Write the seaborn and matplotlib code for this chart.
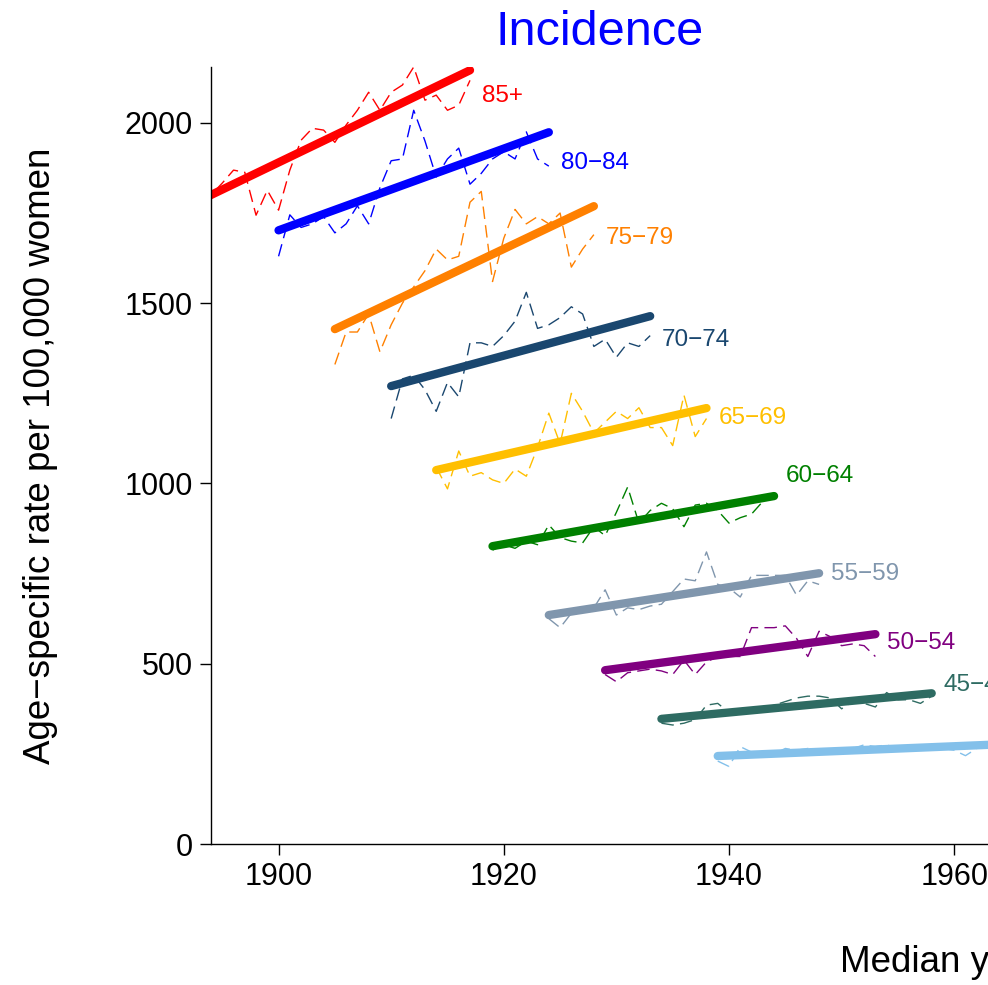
import numpy as np
import pandas as pd
import seaborn as sns
import matplotlib.pyplot as plt

# age groups and colours
groups = ['85+', '80\u221284', '75\u221279', '70\u221274', '65\u221269',
          '60\u221264', '55\u221259', '50\u221254', '45\u221249', '40\u221244']
colors = ['#FF0000', '#0000FF', '#FF8000', '#1A476F', '#FFBF00',
          '#008000', '#8096AD', '#800080', '#2E6B62', '#83C0EA']

# first median year of birth for each group (one value per year after that)
first_year = [1893, 1900, 1905, 1910, 1914, 1919, 1924, 1929, 1934, 1939]

# observed age-specific rates per 100,000 women
rate_85 = [1790, 1800, 1833, 1869, 1863, 1744, 1813, 1758, 1869, 1952, 1985, 1980, 1946,
           1994, 2035, 2085, 2035, 2085, 2105, 2155, 2063, 2077, 2035, 2049, 2118]
rate_80 = [1630, 1745, 1710, 1720, 1740, 1695, 1720, 1770, 1720, 1820, 1895, 1900, 2035,
           1950, 1850, 1900, 1930, 1830, 1860, 1900, 1920, 1900, 1975, 1900, 1880]
rate_75 = [1330, 1420, 1420, 1470, 1365, 1440, 1500, 1545, 1590, 1650, 1620, 1630, 1780,
           1810, 1560, 1680, 1760, 1720, 1740, 1720, 1750, 1600, 1650, 1690]
rate_70 = [1180, 1290, 1300, 1260, 1200, 1280, 1240, 1390, 1390, 1380, 1410, 1450, 1530,
           1430, 1440, 1460, 1490, 1470, 1380, 1400, 1350, 1390, 1380, 1410]
rate_65 = [1045, 985, 1090, 1020, 1030, 1010, 1000, 1040, 1020, 1100, 1195, 1110, 1250,
           1200, 1140, 1170, 1200, 1180, 1210, 1155, 1155, 1105, 1245, 1130, 1180]
rate_60 = [815, 830, 820, 840, 830, 885, 850, 840, 835, 880, 855, 920, 990,
           890, 925, 945, 930, 880, 940, 945, 925, 890, 905, 915, 950, 960]
rate_55 = [625, 600, 640, 650, 655, 705, 635, 655, 650, 660, 665, 700, 735,
           730, 810, 720, 710, 685, 745, 745, 745, 745, 690, 730, 720]
rate_50 = [470, 450, 475, 480, 485, 480, 470, 510, 470, 505, 520, 520, 520,
           600, 600, 600, 605, 570, 520, 590, 575, 550, 555, 550, 520]
rate_45 = [335, 330, 335, 345, 385, 390, 365, 360, 370, 375, 385, 395, 405,
           410, 410, 405, 375, 395, 390, 380, 420, 400, 400, 390, 410]
rate_40 = [230, 215, 270, 255, 255, 250, 265, 260, 265, 260, 265, 260, 265,
           275, 270, 275, 265, 270, 275, 260, 265, 260, 245, 265, 275]
rates = [rate_85, rate_80, rate_75, rate_70, rate_65,
         rate_60, rate_55, rate_50, rate_45, rate_40]

# fitted linear trend at first and last cohort
trend_first = [1785, 1702, 1428, 1270, 1037, 826, 635, 482, 347, 244]
trend_last = [2146, 1974, 1769, 1464, 1209, 965, 751, 582, 418, 275]
# where the group name sits (rate units)
label_y = [2074, 1888, 1681, 1398, 1181, 1020, 748, 557, 441, 300]

rows = []
for g, y0, vals in zip(groups, first_year, rates):
    for i, v in enumerate(vals):
        rows.append({'group': g, 'year': y0 + i, 'rate': v})
df = pd.DataFrame(rows)

sns.set_style('white')
plt.rcParams['font.family'] = ['Liberation Sans', 'DejaVu Sans']
plt.rcParams['text.color'] = 'black'
plt.rcParams['axes.labelcolor'] = 'black'

fig = plt.figure(figsize=(9.88, 9.85), dpi=100)
ax = fig.add_axes([211 / 988, 1 - 844 / 985, 1 - 211 / 988, (844 - 67) / 985])

for g, c, lo, hi in zip(groups, colors, trend_first, trend_last):
    sub = df[df['group'] == g]
    sns.lineplot(data=sub, x='year', y='rate', color=c, lw=1.0,
                 linestyle=(0, (9, 4.5)), ax=ax)
    x0, x1 = sub['year'].min(), sub['year'].max()
    sns.lineplot(x=[x0, x1], y=[lo, hi], color=c, lw=6,
                 solid_capstyle='round', ax=ax)

for g, c, vals, y0, ly in zip(groups, colors, rates, first_year, label_y):
    ax.text(y0 + len(vals) - 1 + 1.05, ly, g, color=c, fontsize=17.5,
            ha='left', va='center')

ax.set_xlim(1894, 1963)
ax.set_ylim(0, 2155)
ax.set_xticks([1900, 1920, 1940, 1960])
ax.set_yticks([0, 500, 1000, 1500, 2000])
ax.tick_params(direction='out', length=8, width=1, labelsize=22, pad=5,
               colors='black', left=True, bottom=True)
for s in ['top', 'right']:
    ax.spines[s].set_visible(False)
for s in ['left', 'bottom']:
    ax.spines[s].set_color('black')
    ax.spines[s].set_linewidth(1.0)

ax.set_xlabel('')
ax.set_ylabel('Age\u2212specific rate per 100,000 women', fontsize=26.5, color='black')
ax.yaxis.label.set_verticalalignment('center')
ax.yaxis.set_label_coords(-0.22, 0.5)
ax.set_title('Incidence', color='blue', fontsize=35, pad=16)

fig.text(840 / 988, 1 - 962 / 985, 'Median year of birth', fontsize=26.5,
         color='black', ha='left', va='center')

fig.savefig('out.png', dpi=100)
